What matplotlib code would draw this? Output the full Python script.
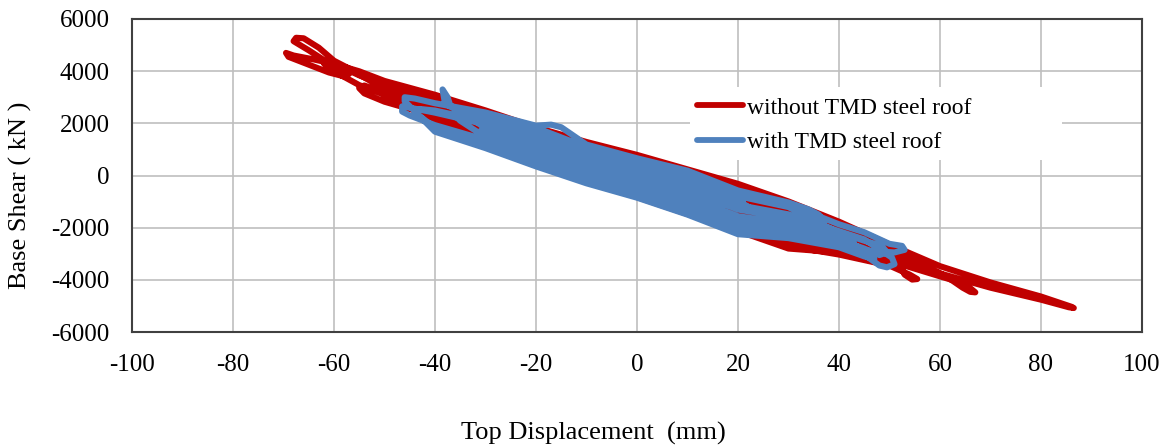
import matplotlib
matplotlib.use('Agg')
import matplotlib.pyplot as plt
from matplotlib.patches import Rectangle

# hysteresis traces (top displacement mm, base shear kN)
red_x = [0,
         10, 20, 30, 34, 36, 36.5, 35.5,
         30, 20, 10, 0, -10, -20, -21.5, -22, -21,
         -10, 0, 10, 20, 30, 40, 44, 46, 45.5,
         40, 30, 20, 10, 0, -10, -20, -30, -40, -45.5, -46, -45,
         -40, -30, -20, -10, 0, 10, 20, 30, 40, 50, 54, 55.5, 54.5, 53,
         52, 50, 45, 40, 30, 20, 10, 0, -10, -20, -30, -40, -45, -50.5, -51, -50,
         -45, -40, -30, -20, -10, 0, 10, 20, 30, 40, 50, 60, 65, 66.5, 67, 66, 64.5,
         61.5, 58, 50, 40, 30, 20, 10, 0, -10, -20, -30, -40, -50, -55, -59, -61, -62, -61,
         -55, -50, -40, -30, -20, -10, 0, 10, 20, 30, 40, 50, 60, 70, 80, 85.5, 86.5, 86,
         80, 70, 60, 50, 40, 30, 20, 10, 0, -10, -20, -30, -40, -50, -55, -60, -64, -68, -69.5, -69,
         -65, -61, -58, -57, -61, -65, -68, -67.5, -66, -63, -60, -57,
         -50, -40, -30, -20, -10, 0, 10, 20, 30, 40, 50, 52, 52.5, 52,
         50, 40, 30, 20, 10, 0, -10, -20, -30, -40, -42, -43, -41.5,
         -30, -20, -10, 0, 10, 20, 30, 38, 40, 39.5,
         30, 20, 10, 0, -10, -20, -30, -40, -45, -50, -54, -55, -54,
         -50, -40, -30, -20, -10, 0, 10, 20, 28, 30.5, 29.5,
         20, 10, 0]
red_y = [25,
         -845, -1460, -2135, -2350, -2300, -2150, -1950,
         -1375, -700, -125, 450, 1025, 1625, 1600, 1450, 1300,
         245, -570, -1205, -1840, -2515, -2890, -3050, -2950, -2750,
         -2260, -1660, -985, -395, 195, 830, 1460, 2110, 2710, 2950, 2800, 2650,
         2105, 1505, 855, 115, -740, -1385, -2030, -2705, -3030, -3455, -3800, -3970, -3990, -3800,
         -3400, -2900, -2500, -1840, -1090, -415, 145, 705, 1220, 1790, 2440, 3040, 3295, 3500, 3300, 3050,
         2605, 2325, 1725, 1075, 375, -400, -1025, -1650, -2325, -2750, -3275, -3865, -4155, -4400, -4480, -4460, -4300,
         -3900, -3550, -2780, -1980, -1280, -605, -35, 535, 1090, 1680, 2330, 2930, 3470, 3840, 4200, 4380, 4300, 4100,
         3465, 3095, 2545, 1945, 1295, 635, -60, -665, -1270, -1945, -2470, -3095, -3755, -4300, -4760, -5050, -5080, -5030,
         -4640, -4100, -3475, -2645, -1770, -995, -320, 235, 790, 1285, 1845, 2495, 3095, 3625, 3995, 4280, 4450, 4600, 4700, 4550,
         4250, 3950, 3800, 3900, 4300, 4800, 5150, 5280, 5260, 4900, 4400, 4100,
         3310, 2765, 2165, 1515, 895, 280, -305, -890, -1565, -2190, -2915, -3050, -3150, -3300,
         -3450, -2950, -2800, -2125, -1475, -825, 50, 800, 1450, 2050, 2200, 2400, 2500,
         2190, 1540, 930, 325, -260, -845, -1520, -2150, -2300, -2450,
         -2420, -1745, -1115, -485, 310, 1020, 1670, 2270, 2550, 2830, 3150, 3350, 3450,
         3175, 2630, 2030, 1380, 730, 65, -530, -1130, -1800, -1900, -2050,
         -1555, -935, -315]

blue_x = [0,
          10, 20, 24, 25.5, 25,
          20, 10, 0, -10, -20, -26, -27, -26,
          -23, -20, -10, 0, 10, 20, 30, 40, 45, 48, 49.5, 51, 50.5,
          45, 40, 30, 20, 10, 0, -10, -20, -30, -40, -45, -46.5, -46.5, -45,
          -40, -30, -20, -10, 0, 10, 20, 30, 40, 45, 51, 53, 52.5,
          50, 45, 40, 30, 20, 10, 0, -10, -20, -30, -36, -38, -38.5, -37.5, -37,
          -30, -20, -10, 0, 10, 20, 30, 35, 37, 36, 34,
          30, 20, 10, 0, -10, -15, -17, -20, -30, -40, -44, -46, -46,
          -40, -30, -20, -10, 0, 10, 20, 30, 40, 45, 47, 46,
          40, 30, 20, 10, 0, -10, -20, -30, -31, -30,
          -20, -10, 0, 10, 20, 21, 20,
          10, 0, -5, 0,
          -10, -20, -30, -40, -43, -44, -42.5,
          -40, -30, -20, -10, 0, 10, 20, 30, 40, 42, 43, 42,
          30, 20, 10, 0, -10, -20, -30, -35, -36, -35,
          -30, -20, -10, 0, 10, 20, 30, 40, 45, 48, 49.5, 48.5,
          45, 40, 30, 20, 10, 0, -10, -20, -22, -23, -22,
          -20, -10, 0, 10, 15]
blue_y = [-75,
          -895, -1650, -1800, -1750, -1550,
          -960, -205, 315, 840, 1550, 1850, 1750, 1600,
          1050, 470, -210, -735, -1370, -2120, -2295, -2680, -3025, -3450, -3520, -3400, -3150,
          -2450, -2135, -1490, -1130, -375, 155, 680, 1390, 1960, 2410, 2600, 2650, 2450, 2300,
          1930, 1365, 710, 25, -500, -1110, -1865, -2085, -2535, -2875, -2950, -2850, -2700,
          -2620, -2175, -1870, -1105, -660, 100, 585, 1090, 1830, 2345, 2540, 2750, 3300, 3000, 2700,
          1820, 1230, 525, 3, -550, -1305, -1630, -1850, -1750, -1500, -1300,
          -1035, -575, 185, 660, 1185, 1850, 1950, 1910, 2415, 2770, 2950, 3000, 2850,
          1680, 1050, 350, -300, -850, -1500, -2250, -2400, -2750, -3100, -3200, -2950,
          -2370, -1840, -1560, -810, -230, 300, 990, 1600, 1700, 1850,
          1710, 990, 465, -30, -800, -1000, -1150,
          -1065, -465, 0, -200,
          790, 1510, 2065, 2490, 2550, 2400, 2200,
          1820, 1225, 550, -110, -655, -1285, -2035, -2225, -2630, -2750, -2600, -2400,
          -1210, -790, -30, 465, 975, 1710, 2240, 2450, 2300, 2100,
          1470, 830, 150, -385, -980, -1735, -1980, -2465, -2800, -3050, -2950, -2700,
          -2500, -2180, -1560, -1220, -460, 80, 600, 1310, 1500, 1350, 1150,
          1030, 340, -190, -765, -1150]

x_ticks = [-100, -80, -60, -40, -20, 0, 20, 40, 60, 80, 100]
y_ticks = [-6000, -4000, -2000, 0, 2000, 4000, 6000]

plt.rcParams['font.family'] = ['Liberation Serif', 'DejaVu Serif']

fig = plt.figure(figsize=(11.68, 4.46), dpi=100)
ax = fig.add_axes([0.113, 0.2556, 0.8647, 0.7018])

ax.plot(red_x, red_y, color='#C00000', lw=4.4, solid_joinstyle='round',
        solid_capstyle='round', label='without TMD steel roof', zorder=3)
ax.plot(blue_x, blue_y, color='#4F81BD', lw=4.4, solid_joinstyle='round',
        solid_capstyle='round', label='with TMD steel roof', zorder=4)

ax.set_xlim(-100, 100)
ax.set_ylim(-6000, 6000)
ax.set_xticks(x_ticks)
ax.set_yticks(y_ticks)
ax.set_xticklabels([str(t) for t in x_ticks])
ax.set_yticklabels([str(t) for t in y_ticks])
ax.tick_params(length=0, labelsize=18, pad=16)
ax.set_axisbelow(True)
ax.grid(True, color='#BFBFBF', lw=1.2)
for s in ax.spines.values():
    s.set_color('#404040')
    s.set_linewidth(1.5)

# white box behind the legend hides the grid there
ax.add_patch(Rectangle((0.5525, 0.5495), 0.3683, 0.2332, transform=ax.transAxes,
                       facecolor='white', edgecolor='none', zorder=1))

leg = ax.legend(loc='upper left', bbox_to_anchor=(697 / 1168, 1 - 97 / 446),
                bbox_transform=fig.transFigure, frameon=False, fontsize=17,
                handlelength=1.95, handletextpad=0.17, labelspacing=0.55,
                borderpad=0, borderaxespad=0)
for line in leg.get_lines():
    line.set_linewidth(4.2)
leg.set_zorder(6)

fig.text(593 / 1168, 1 - 433 / 446, 'Top Displacement  (mm)', fontsize=19,
         ha='center', va='center')
fig.text(20 / 1168, 1 - 195 / 446, 'Base Shear ( kN )', fontsize=19,
         rotation=90, ha='center', va='center')

fig.savefig('out.png', dpi=100)
